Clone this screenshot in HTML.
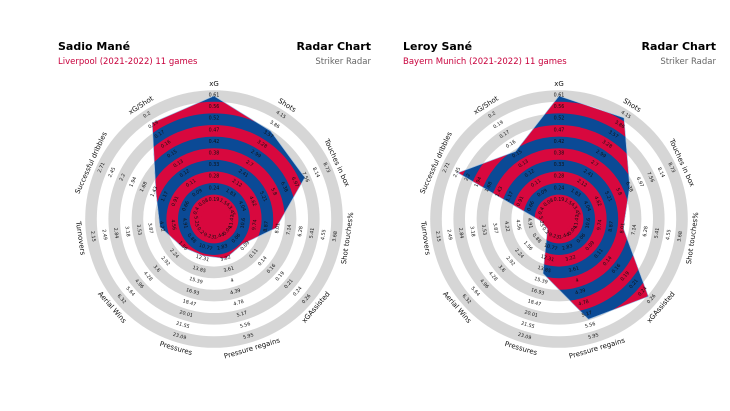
<!DOCTYPE html>
<html><head><meta charset="utf-8"><style>
html,body{margin:0;padding:0;background:#fff;}
svg{display:block;font-family:"DejaVu Sans","Liberation Sans",sans-serif;}
</style></head><body>
<svg id="chart" width="730" height="411" viewBox="0 0 730 411" xmlns="http://www.w3.org/2000/svg">
<g>
<text x="58" y="50" font-size="11" font-weight="bold" fill="#000">Sadio Mané</text>
<text x="58" y="64" font-size="8.5" fill="#c8003c">Liverpool (2021-2022) 11 games</text>
<text x="371" y="50" font-size="11" font-weight="bold" fill="#000" text-anchor="end">Radar Chart</text>
<text x="371" y="64" font-size="8.5" fill="#666" text-anchor="end">Striker Radar</text>
</g>
<g>
<text x="403" y="50" font-size="11" font-weight="bold" fill="#000">Leroy Sané</text>
<text x="403" y="64" font-size="8.5" fill="#c8003c">Bayern Munich (2021-2022) 11 games</text>
<text x="716" y="50" font-size="11" font-weight="bold" fill="#000" text-anchor="end">Radar Chart</text>
<text x="716" y="64" font-size="8.5" fill="#666" text-anchor="end">Striker Radar</text>
</g>
</svg>
<script>
const params = ["xG","Shots","Touches in box","Shot touches%","xGAssisted","Pressure regains","Pressures","Aerial Wins","Turnovers","Successful dribbles","xG/Shot"];
const rangeOuter = [0.61,4.15,8.73,3.68,0.26,5.95,23.09,6.32,2.15,2.71,0.2];
const rangeInner = [0.19,1.54,3.45,11.47,0.04,2.44,9.23,0.2,5.25,0.40,0.08];
const maneValues = [0.61,3.69,7.56,8.18,0.081,3.2,11.85,1.6,4.18,1.40,0.19];
const saneValues = [0.61,4.08,6.44,8.01,0.25,5.33,14.3,0.0,5.28,2.45,0.151];

const NS="http://www.w3.org/2000/svg";
const svg=document.getElementById('chart');
const CY=219, R0=123, STEP=11.6, NL=10;
const BLUE="#0b4a96", RED="#d8083e", GRAY="#d6d6d6";
function mk(tag,attrs,parent){const e=document.createElementNS(NS,tag);for(const k in attrs)e.setAttribute(k,attrs[k]);parent.appendChild(e);return e;}
function ang(k){return k*2*Math.PI/params.length;}
function rOf(k,v){const hi=rangeOuter[k],lo=rangeInner[k];const st=(hi-lo)/(NL-1);let r=R0-(hi-v)/st*STEP;return Math.max(0,Math.min(R0+4,r));}
function fmt(v){return String(parseFloat(v.toFixed(2)));}
function rot(th){let d=th*180/Math.PI;if(d>90&&d<270)d-=180;return d;}

function drawRadar(cx,values,id){
  const g=mk('g',{},svg);
  
  
  for(let i=0;i<NL;i++){
    const r=R0-i*STEP+STEP/2;
    const c=mk('circle',{cx:cx,cy:CY,r:r,fill:(i%2===0)?GRAY:"#fff"},g);
    
    
  }
  const inner=R0-(NL-1)*STEP-STEP/2;
  mk('circle',{cx:cx,cy:CY,r:inner,fill:"#fff"},g);
  const pts=values.map((v,k)=>{const r=rOf(k,v),t=ang(k);return (cx+r*Math.sin(t)).toFixed(2)+","+(CY-r*Math.cos(t)).toFixed(2);}).join(" ");
  const defs=mk('defs',{},g);
  const cp=mk('clipPath',{id:'clip-'+id},defs);
  mk('polygon',{points:pts},cp);
  const fg=mk('g',{'clip-path':'url(#clip-'+id+')'},g);
  for(let i=0;i<NL;i++){
    const r=R0-i*STEP+STEP/2+(i===0?8:0);
    const c=mk('circle',{cx:cx,cy:CY,r:r,fill:(i%2===0)?BLUE:RED},fg);
    
    
  }
  mk('circle',{cx:cx,cy:CY,r:inner,fill:RED},fg);
  const poly=mk('polygon',{points:pts,fill:"none",stroke:"#9cc3e6","stroke-width":"0.6"},g);
  
  
  params.forEach((p,k)=>{
    const t=ang(k),d=rot(t);
    const hi=rangeOuter[k],lo=rangeInner[k];
    for(let i=0;i<NL;i++){
      const r=R0-i*STEP;const v=hi+(lo-hi)*i/(NL-1);
      const x=cx+r*Math.sin(t),y=CY-r*Math.cos(t);
      const tx=mk('text',{x:x,y:y,'font-size':'4.8',fill:'#111','text-anchor':'middle','dominant-baseline':'central',transform:`rotate(${d.toFixed(1)} ${x.toFixed(2)} ${y.toFixed(2)})`},g);
      
      
      tx.textContent=fmt(v);
    }
    const r=R0+12;const x=cx+r*Math.sin(t),y=CY-r*Math.cos(t);
    const tt=mk('text',{x:x,y:y,'font-size':'7','fill':'#111','text-anchor':'middle','dominant-baseline':'central',transform:`rotate(${d.toFixed(1)} ${x.toFixed(2)} ${y.toFixed(2)})`},g);
    
    
    tt.textContent=p;
  });
}
drawRadar(214,maneValues,'mane');
drawRadar(559,saneValues,'sane');
</script>
</body></html>
